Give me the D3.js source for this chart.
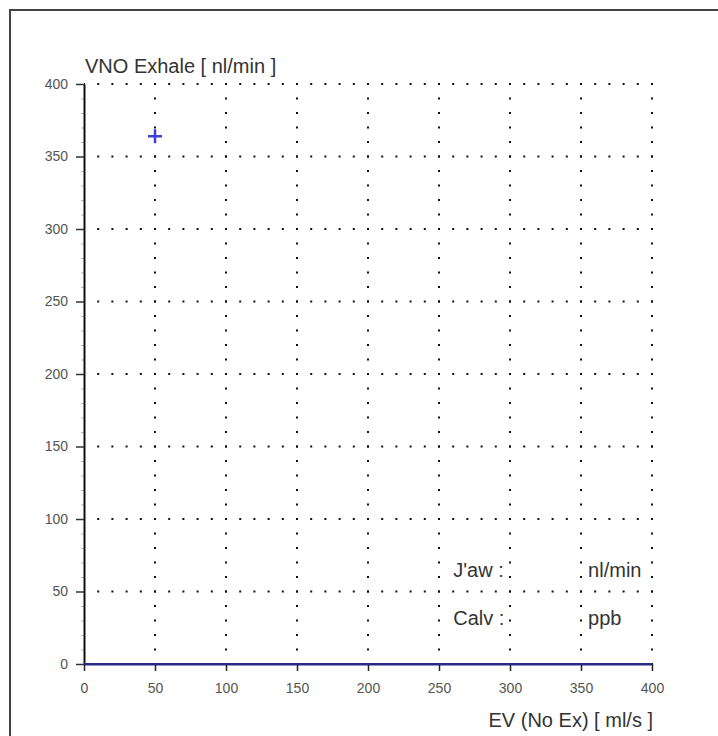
<!DOCTYPE html>
<html>
<head>
<meta charset="utf-8">
<script src="https://cdn.jsdelivr.net/npm/d3@7"></script>
<style>
  body { margin: 0; background: #fff; }
  text { font-family: "Liberation Sans", Arial, sans-serif; }
</style>
</head>
<body>
<svg id="chart" width="718" height="736"></svg>
<script>
// axis ticks
const xTicks = [0, 50, 100, 150, 200, 250, 300, 350, 400];
const yTicks = [0, 50, 100, 150, 200, 250, 300, 350, 400];

// fit line (flat at zero) and the single measured point
const fitEV = [0, 400];
const fitVNO = [0, 0];
const pointEV = [50];
const pointVNO = [364];

// result box texts
const infoLabels = ["J'aw :", "Calv :"];
const infoUnits = ["nl/min", "ppb"];

const svg = d3.select("#chart");

const x = d3.scaleLinear().domain([0, 400]).range([84, 652]);
const y = d3.scaleLinear().domain([0, 400]).range([664, 84]);

// outer frame (runs off the page right and bottom)
svg.append("rect")
    .attr("x", 10).attr("y", 10)
    .attr("width", 760).attr("height", 780)
    .attr("fill", "none")
    .attr("stroke", "#444")
    .attr("stroke-width", 2);

// dotted grid, one dot every 10 units
const stepX = x(10) - x(0);
const stepY = y(0) - y(10);

svg.append("g").attr("class", "grid")
  .selectAll("line.h")
  .data(yTicks.filter(d => d > 0))
  .join("line")
    .attr("class", "h")
    .attr("x1", x(0)).attr("x2", x(400) + 1)
    .attr("y1", d => y(d)).attr("y2", d => y(d))
    .attr("stroke", "#111")
    .attr("stroke-width", 2)
    .attr("stroke-dasharray", "2 " + (stepX - 2))
    .attr("stroke-dashoffset", 1);

svg.select("g.grid")
  .selectAll("line.v")
  .data(xTicks.filter(d => d > 0))
  .join("line")
    .attr("class", "v")
    .attr("x1", d => x(d)).attr("x2", d => x(d))
    .attr("y1", y(0)).attr("y2", y(400) - 1)
    .attr("stroke", "#111")
    .attr("stroke-width", 2)
    .attr("stroke-dasharray", "2 " + (stepY - 2))
    .attr("stroke-dashoffset", 1);

// y axis minor ticks
svg.append("g")
    .attr("transform", "translate(" + x(0) + ",0)")
    .call(d3.axisLeft(y).tickValues(d3.range(0, 401, 10).filter(d => d % 50 !== 0))
      .tickSize(3).tickSizeOuter(0).tickFormat(""))
    .call(g => g.select(".domain").remove())
    .call(g => g.selectAll("line").attr("stroke", "#bbb"));

// y axis
svg.append("g")
    .attr("class", "axis left")
    .attr("transform", "translate(" + x(0) + ",0)")
    .call(d3.axisLeft(y).tickValues(yTicks).tickSize(8).tickSizeOuter(0).tickPadding(8))
    .call(g => g.select(".domain").attr("stroke", "#111").attr("stroke-width", 2))
    .call(g => g.selectAll(".tick line").attr("stroke", "#333").attr("stroke-width", 1.5))
    .call(g => g.selectAll("text")
      .attr("font-size", 14)
      .attr("fill", "#555")
      .style("font-family", "'Liberation Sans', Arial, sans-serif"));

// x axis
svg.append("g")
    .attr("class", "axis bottom")
    .attr("transform", "translate(0," + y(0) + ")")
    .call(d3.axisBottom(x).tickValues(xTicks).tickSize(7).tickSizeOuter(0).tickPadding(12))
    .call(g => g.select(".domain").attr("stroke", "#2a2a86").attr("stroke-width", 2))
    .call(g => g.selectAll(".tick line").attr("stroke", "#222").attr("stroke-width", 1.5))
    .call(g => g.selectAll("text")
      .attr("font-size", 14)
      .attr("fill", "#555")
      .style("font-family", "'Liberation Sans', Arial, sans-serif"));

// fit line
const line = d3.line().x((d, i) => x(fitEV[i])).y(d => y(d));
svg.append("path")
    .datum(fitVNO)
    .attr("d", line)
    .attr("fill", "none")
    .attr("stroke", "#2a2a86")
    .attr("stroke-width", 2);

// measured point as "+"
const half = 7;
svg.append("g")
  .selectAll("path")
  .data(pointEV.map((d, i) => [d, pointVNO[i]]))
  .join("path")
    .attr("d", d => {
      const px = x(d[0]), py = y(d[1]);
      return "M" + (px - half) + "," + py + "H" + (px + half) +
             "M" + px + "," + (py - half) + "V" + (py + half);
    })
    .attr("stroke", "#4040d8")
    .attr("stroke-width", 2.5)
    .attr("fill", "none");

// titles
svg.append("text")
    .attr("x", x(0) + 1)
    .attr("y", 73)
    .attr("font-size", 20)
    .attr("fill", "#333")
    .text("VNO Exhale [ nl/min ]");

svg.append("text")
    .attr("x", x(400) + 1)
    .attr("y", 727)
    .attr("text-anchor", "end")
    .attr("font-size", 20)
    .attr("fill", "#333")
    .text("EV (No Ex) [ ml/s ]");

// result texts
const infoY = [y(60), y(27)];
svg.append("g")
  .selectAll("text.lab")
  .data(infoLabels)
  .join("text")
    .attr("class", "lab")
    .attr("x", x(260))
    .attr("y", (d, i) => infoY[i])
    .attr("font-size", 20)
    .attr("fill", "#333")
    .text(d => d);

svg.append("g")
  .selectAll("text.unit")
  .data(infoUnits)
  .join("text")
    .attr("class", "unit")
    .attr("x", x(355))
    .attr("y", (d, i) => infoY[i])
    .attr("font-size", 20)
    .attr("fill", "#333")
    .text(d => d);
</script>
</body>
</html>
